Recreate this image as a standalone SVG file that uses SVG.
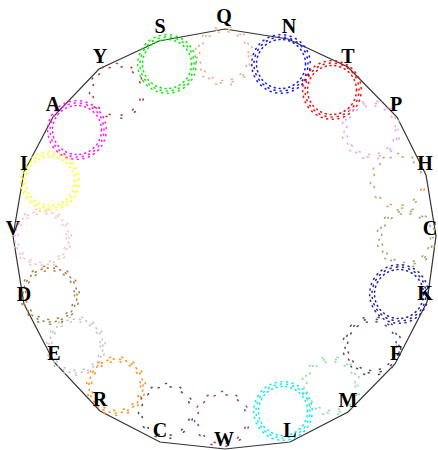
<svg xmlns="http://www.w3.org/2000/svg" width="438" height="450" viewBox="0 0 438 450">
<style>
.lbl{font-family:"Liberation Serif","Times New Roman",serif;font-size:20px;font-weight:bold;fill:#000;text-anchor:middle}
.edge{fill:none;stroke:#333;stroke-width:1.2}
circle{fill:none;stroke-linecap:round;stroke-width:1.6}
.a{stroke-dasharray:1 3.9}
.b{stroke-dasharray:1 5.3;stroke-dashoffset:2}
.c{stroke-dasharray:1 4.7;stroke-dashoffset:1}
.s{stroke-dasharray:1 8.9}
.t{stroke-dasharray:1 11.3;stroke-dashoffset:4}
.u{stroke-dasharray:1 14.1;stroke-dashoffset:7}
</style>
<defs>
<g id="dense"><circle class="a" r="24.5"/><circle class="b" r="27"/><circle class="c" r="29.3"/></g>
<g id="mid"><circle class="s" r="24.5"/><circle class="b" r="27"/><circle class="t" r="29.3"/></g>
<g id="sparse"><circle class="s" r="24.5"/><circle class="t" r="27"/><circle class="u" r="29.3"/></g>
<g id="vsparse"><circle class="t" r="24.5"/><circle class="u" r="27.5"/></g>
</defs>
<rect width="438" height="450" fill="#fff"/>
<g id="connectors">
<polygon class="edge" points="225,29 288,39 348,67 397,117 426,175 436,236 427,302 395,364 348,412 290,442 225,449 160,442 100,411 54,362 24,304 13,236 24,172 53,117 99,69 159,41"/>
</g>
<g id="rings">
<use id="ring-Q" href="#sparse" x="224" y="56" stroke="#e8ae8c"/>
<use id="ring-N" href="#dense" x="281" y="64" stroke="#2020ee"/>
<use id="ring-T" href="#dense" x="332" y="90" stroke="#ee1515"/>
<use id="ring-P" href="#sparse" x="371" y="130" stroke="#e2a4ea"/>
<use id="ring-H" href="#vsparse" x="398" y="181" stroke="#e09a58"/>
<use id="ring-C1" href="#sparse" x="406" y="238" stroke="#a4a46c"/>
<use id="ring-K" href="#dense" x="399" y="294" stroke="#2a2aa0"/>
<use id="ring-F" href="#sparse" x="372" y="346" stroke="#604868"/>
<use id="ring-M" href="#sparse" x="331" y="386" stroke="#8ede9e"/>
<use id="ring-L" href="#dense" x="283" y="411" stroke="#10eeee"/>
<use id="ring-W" href="#vsparse" x="222" y="419" stroke="#9a4484"/>
<use id="ring-C2" href="#vsparse" x="166" y="411" stroke="#505050"/>
<use id="ring-R" href="#mid" x="116" y="386" stroke="#ff9020"/>
<use id="ring-E" href="#mid" x="76" y="346" stroke="#c4c4c4"/>
<use id="ring-D" href="#mid" x="50" y="295" stroke="#a88040"/>
<use id="ring-V" href="#mid" x="42" y="238" stroke="#ffbcc6"/>
<use id="ring-I" href="#dense" x="50" y="181" stroke="#ffff20"/>
<use id="ring-A" href="#dense" x="77" y="130" stroke="#ff20ff"/>
<use id="ring-Y" href="#vsparse" x="117" y="91" stroke="#b04040"/>
<use id="ring-S" href="#dense" x="167" y="64" stroke="#10ee10"/>
</g>
<g id="labels">
<g id="node-Q"><text class="lbl" x="224" y="23">Q</text></g>
<g id="node-N"><text class="lbl" x="289" y="33">N</text></g>
<g id="node-T"><text class="lbl" x="348" y="63">T</text></g>
<g id="node-P"><text class="lbl" x="396" y="111">P</text></g>
<g id="node-H"><text class="lbl" x="425" y="170">H</text></g>
<g id="node-C1"><text class="lbl" x="430" y="235">C</text></g>
<g id="node-K"><text class="lbl" x="425" y="300">K</text></g>
<g id="node-F"><text class="lbl" x="396" y="360">F</text></g>
<g id="node-M"><text class="lbl" x="348" y="407">M</text></g>
<g id="node-L"><text class="lbl" x="290" y="437">L</text></g>
<g id="node-W"><text class="lbl" x="224" y="446">W</text></g>
<g id="node-C2"><text class="lbl" x="160" y="437">C</text></g>
<g id="node-R"><text class="lbl" x="100" y="406">R</text></g>
<g id="node-E"><text class="lbl" x="54" y="360">E</text></g>
<g id="node-D"><text class="lbl" x="24" y="301">D</text></g>
<g id="node-V"><text class="lbl" x="13" y="235">V</text></g>
<g id="node-I"><text class="lbl" x="24" y="170">I</text></g>
<g id="node-A"><text class="lbl" x="53" y="111">A</text></g>
<g id="node-Y"><text class="lbl" x="100" y="63">Y</text></g>
<g id="node-S"><text class="lbl" x="160" y="33">S</text></g>
</g>
</svg>
